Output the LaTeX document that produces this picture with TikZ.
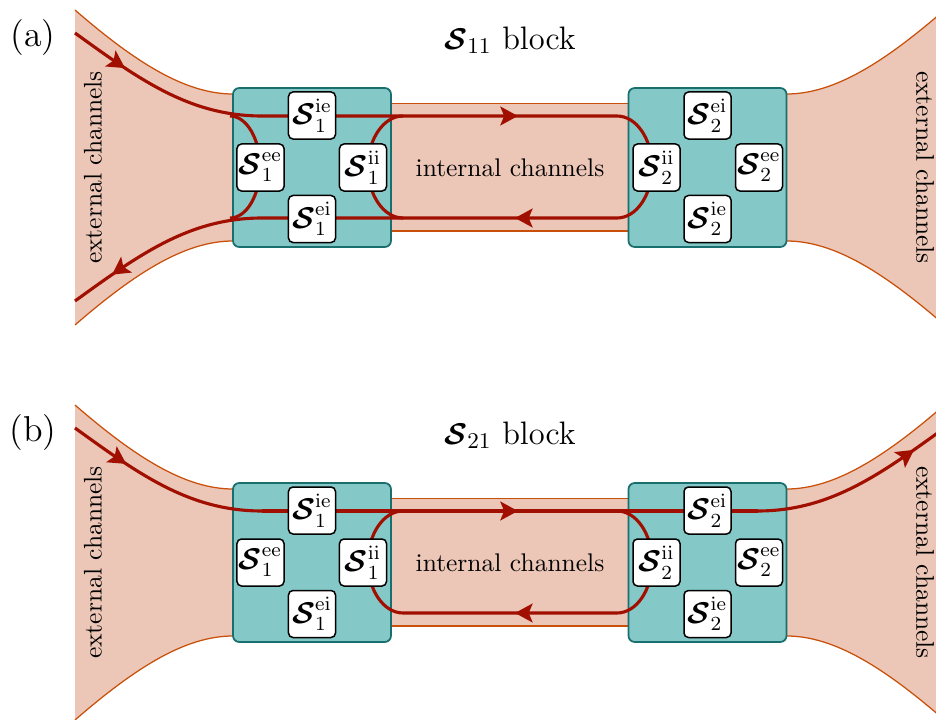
\documentclass[tikz,border=0pt]{standalone}
\usepackage{amsmath}
\usetikzlibrary{arrows.meta,decorations.markings}
\definecolor{salmon}{RGB}{236,198,182}
\definecolor{hornedge}{RGB}{200,80,10}
\definecolor{tealfill}{RGB}{133,200,200}
\definecolor{tealedge}{RGB}{25,110,110}
\definecolor{chan}{RGB}{160,15,0}
\tikzset{
  horn/.style={fill=salmon},
  hornline/.style={draw=hornedge,line width=0.5pt},
  bigbox/.style={draw=tealedge,fill=tealfill,line width=0.7pt,rounded corners=2.5pt,minimum width=63.2pt,minimum height=63.6pt,inner sep=0pt},
  sbox/.style={draw=black,fill=white,line width=0.6pt,rounded corners=1.8pt,minimum size=18.8pt,inner sep=0pt,font=\large},
  redline/.style={draw=chan,line width=1.25pt},
  arrowat/.style={postaction={decorate,decoration={markings,mark=at position #1 with {\arrow[chan]{Stealth[length=7pt,width=7.5pt,inset=1.5pt]}}}}},
  arrowtwo/.style 2 args={postaction={decorate,decoration={markings,
     mark=at position #1 with {\arrow[chan]{Stealth[length=7pt,width=7.5pt,inset=1.5pt]}},
     mark=at position #2 with {\arrow[chan]{Stealth[length=7pt,width=7.5pt,inset=1.5pt]}}}}},
}
\newcommand{\Smat}[2]{$\boldsymbol{\mathcal{S}}_{#1}^{\mathrm{#2}}$}
\newcommand{\drawbase}[3]{%
  % horns
  \path[horn] (75,10) .. controls (135,62) and (185,94) .. (233,94) -- (233,241) .. controls (185,241) and (135,273) .. (75,325) -- cycle;
  \path[hornline] (75,10) .. controls (135,62) and (185,94) .. (233,94);
  \path[hornline] (233,241) .. controls (185,241) and (135,273) .. (75,325);
  \path[horn] (944.5,10) .. controls (884.5,62) and (834.5,94) .. (786.5,94) -- (786.5,241) .. controls (834.5,241) and (884.5,273) .. (944.5,325) -- cycle;
  \path[hornline] (944.5,10) .. controls (884.5,62) and (834.5,94) .. (786.5,94);
  \path[hornline] (786.5,241) .. controls (834.5,241) and (884.5,273) .. (944.5,325);
  % internal band
  \fill[salmon] (391,103.5) rectangle (628,231);
  \draw[hornline] (391,103.5) -- (628,103.5) (391,231) -- (628,231);
  % blocks
  \node[bigbox] (#1L) at (312,167.5) {};
  \node[bigbox] (#1R) at (707.5,167.5) {};
  % texts
  \node[font=\Large] (#1lab) at (33,38) {(#2)};
  \node[font=\fontsize{13}{15}\selectfont] (#1title) at (510,40) {$\boldsymbol{\mathcal{S}}_{#3}$ block};
  \node[rotate=90,font=\fontsize{10.2}{12}\selectfont] (#1extL) at (93,167.5) {external channels};
  \node[rotate=-90,font=\fontsize{10.2}{12}\selectfont] (#1extR) at (925,167.5) {external channels};
  \node[font=\fontsize{10.2}{12}\selectfont] (#1int) at (510,167.5) {internal channels};
}
\newcommand{\drawsboxes}[1]{%
  \node[sbox] (#1ie1) at (312,115.5) {\Smat{1}{ie}};
  \node[sbox] (#1ee1) at (260.5,167.5) {\Smat{1}{ee}};
  \node[sbox] (#1ii1) at (363,167.5) {\Smat{1}{ii}};
  \node[sbox] (#1ei1) at (312,219) {\Smat{1}{ei}};
  \node[sbox] (#1ei2) at (707.5,115.5) {\Smat{2}{ei}};
  \node[sbox] (#1ii2) at (656.5,167.5) {\Smat{2}{ii}};
  \node[sbox] (#1ee2) at (759,167.5) {\Smat{2}{ee}};
  \node[sbox] (#1ie2) at (707.5,219) {\Smat{2}{ie}};
}
\begin{document}
\begin{tikzpicture}[x=0.4pt,y=-0.4pt]
\useasboundingbox (0,0) rectangle (936,720);
\clip (0,0) rectangle (936,720);
% ---------- panel (a)
\begin{scope}
  \drawbase{a}{a}{11}
  \coordinate (ain) at (75,33);
  \coordinate (aj1) at (262,116);
  \coordinate (aj2) at (403,116);
  \coordinate (aj3) at (403,218);
  \coordinate (aj4) at (262,218);
  \coordinate (aout) at (75,301);
  \draw[redline,arrowat=0.175] (ain) .. controls (140,80) and (190,116) .. (aj1) -- (aj2);
  \draw[redline,arrowtwo={0.164}{0.6456}] (aj2) -- (617,116) arc (90:-90:14pt and 20.4pt) -- (aj3) arc (270:90:14pt and 20.4pt);
  \draw[redline,arrowat=0.87] (aj3) -- (aj4) .. controls (190,218) and (140,254) .. (aout);
  \draw[redline] (230,116) arc (90:-90:12pt and 20.4pt);
  \drawsboxes{a}
\end{scope}
% ---------- panel (b)
\begin{scope}[shift={(0,395)}]
  \drawbase{b}{b}{21}
  \coordinate (bin) at (75,33);
  \coordinate (bj1) at (262,116);
  \coordinate (bj2) at (403,116);
  \coordinate (bj3) at (403,218);
  \coordinate (bj5) at (757.5,116);
  \coordinate (bout) at (944.5,33);
  \draw[redline,arrowat=0.3] (bin) .. controls (140,80) and (190,116) .. (bj1);
  \draw[redline] (bj1) -- (bj5);
  \draw[redline,arrowtwo={0.164}{0.6456}] (bj2) -- (617,116) arc (90:-90:14pt and 20.4pt) -- (bj3) arc (270:90:14pt and 20.4pt);
  \draw[redline,arrowat=0.82] (bj5) .. controls (829.5,116) and (879.5,80) .. (bout);
  \drawsboxes{b}
\end{scope}
\end{tikzpicture}
\end{document}
